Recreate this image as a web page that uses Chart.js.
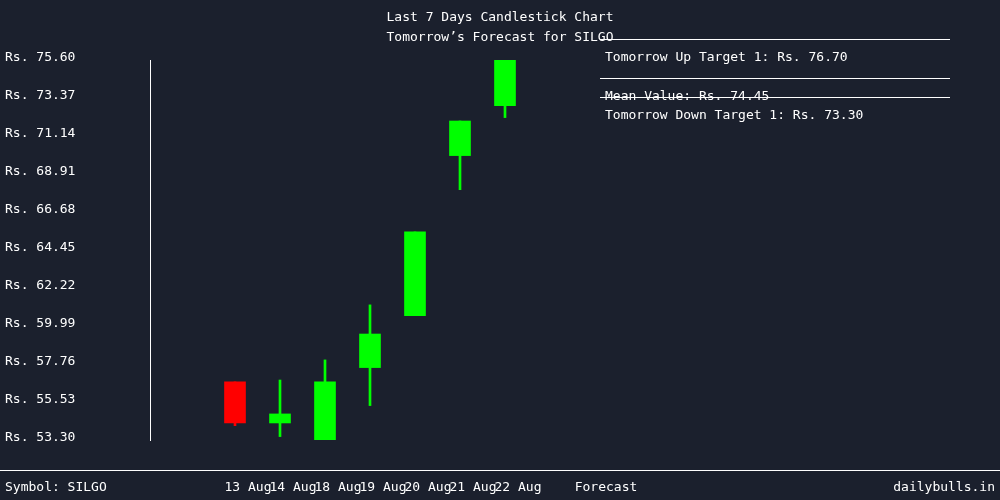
<!DOCTYPE html>
<html><head><meta charset="utf-8">
<script src="https://cdn.jsdelivr.net/npm/chart.js@4/dist/chart.umd.min.js"></script>
<style>html,body{margin:0;padding:0;background:#1b202d;}</style>
</head><body>
<canvas id="c" width="1000" height="500"></canvas>
<script>
const dates = ["13 Aug","14 Aug","18 Aug","19 Aug","20 Aug","21 Aug","22 Aug"];
const opens  = [56.59, 54.18, 53.14, 57.43, 60.48, 69.87, 72.80];
const closes = [54.18, 54.71, 56.59, 59.40, 65.39, 71.90, 75.48];
const highs  = [56.59, 56.70, 57.88, 61.11, 65.39, 71.90, 75.48];
const lows   = [54.02, 53.38, 53.14, 55.20, 60.48, 67.87, 72.10];
const yTicks = [53.30, 55.53, 57.76, 59.99, 62.22, 64.45, 66.68, 68.91, 71.14, 73.37, 75.60];
const forecastLabels = ["Tomorrow Up Target 1", "Mean Value", "Tomorrow Down Target 1"];
const forecastValues = [76.70, 74.45, 73.30];
const symbol = "SILGO";

const FONT = "13px 'DejaVu Sans Mono', monospace";
const colorOf = i => closes[i] >= opens[i] ? '#00ff00' : '#ff0000';

const overlay = {
  id:'overlay',
  afterDraw(chart){
    const ctx = chart.ctx, x = chart.scales.x, y = chart.scales.y;
    ctx.save();
    ctx.font = FONT; ctx.fillStyle = '#ffffff'; ctx.textBaseline = 'middle';
    ctx.textAlign = 'center';
    ctx.fillText('Last 7 Days Candlestick Chart', 500, 18);
    ctx.fillText('Tomorrow\u2019s Forecast for ' + symbol, 500, 38);
    // forecast lines
    ctx.strokeStyle = '#ffffff'; ctx.lineWidth = 1; ctx.textAlign = 'left';
    forecastValues.forEach((v, i) => {
      const py = Math.round(y.getPixelForValue(v)) + 0.5;
      ctx.beginPath(); ctx.moveTo(600, py); ctx.lineTo(950, py); ctx.stroke();
      ctx.fillText(forecastLabels[i] + ': Rs. ' + v.toFixed(2), 605, py + 18);
    });
    // footer
    ctx.beginPath(); ctx.moveTo(0, 470.5); ctx.lineTo(1000, 470.5); ctx.stroke();
    ctx.fillText('Symbol: ' + symbol, 5, 488);
    ctx.textAlign = 'right'; ctx.fillText('dailybulls.in', 995, 488);
    ctx.textAlign = 'center';
    dates.forEach((d, i) => ctx.fillText(d, x.getPixelForValue(i) + 13, 488));
    ctx.fillText('Forecast', x.getPixelForValue(8) + 11, 488);
    ctx.restore();
  }
};

new Chart(document.getElementById('c'), {
  type: 'bar',
  data: {
    datasets: [
      { data: dates.map((d,i)=>({x:i, y:[lows[i], highs[i]]})), backgroundColor: dates.map((d,i)=>colorOf(i)), barThickness: 2, grouped:false, order:2 },
      { data: dates.map((d,i)=>({x:i, y:[opens[i], closes[i]]})), backgroundColor: dates.map((d,i)=>colorOf(i)), barThickness: 21, grouped:false, order:1 }
    ]
  },
  options: {
    responsive:false, animation:false,
    layout:{padding:{top:60,bottom:60,left:5,right:50}},
    plugins:{legend:{display:false}, tooltip:{enabled:false}},
    scales:{
      x:{type:'linear', min:-1, max:15, display:false},
      y:{min:53.18, max:75.48,
         afterFit(s){ s.width = 145; },
         afterBuildTicks(s){ s.ticks = yTicks.map(v=>({value:v})); },
         grid:{display:false, drawTicks:false},
         border:{display:true, color:'#ffffff', width:1},
         ticks:{color:'#ffffff', font:{family:"'DejaVu Sans Mono', monospace", size:13}, crossAlign:'far', padding:0,
                callback:v=>'Rs. ' + Number(v).toFixed(2)}
      }
    }
  },
  plugins:[overlay]
});
</script>
</body></html>
